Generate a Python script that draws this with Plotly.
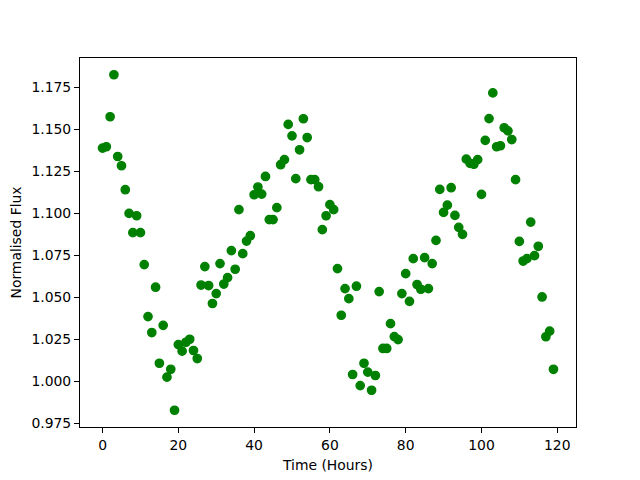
import plotly.graph_objects as go

time_hours = list(range(120))
flux = [
    1.1389, 1.1397, 1.1576, 1.1826, 1.1339, 1.1284, 1.1141, 1.1000, 1.0885, 1.0986,
    1.0885, 1.0695, 1.0385, 1.0290, 1.0560, 1.0107, 1.0333, 1.0024, 1.0071, 0.9827,
    1.0218, 1.0179, 1.0232, 1.0250, 1.0183, 1.0135, 1.0573, 1.0683, 1.0570, 1.0463,
    1.0522, 1.0701, 1.0579, 1.0617, 1.0778, 1.0667, 1.1022, 1.0760, 1.0835, 1.0867,
    1.1111, 1.1157, 1.1115, 1.1220, 1.0963, 1.0963, 1.1034, 1.1290, 1.1320, 1.1530,
    1.1462, 1.1207, 1.1379, 1.1564, 1.1452, 1.1201, 1.1201, 1.1159, 1.0903, 1.0986,
    1.1052, 1.1022, 1.0671, 1.0393, 1.0552, 1.0492, 1.0040, 1.0566, 0.9974, 1.0107,
    1.0054, 0.9946, 1.0034, 1.0534, 1.0195, 1.0195, 1.0343, 1.0266, 1.0248, 1.0522,
    1.0641, 1.0476, 1.0730, 1.0576, 1.0548, 1.0736, 1.0552, 1.0701, 1.0839, 1.1143,
    1.1006, 1.1049, 1.1153, 1.0988, 1.0917, 1.0875, 1.1323, 1.1298, 1.1293, 1.1320,
    1.1113, 1.1435, 1.1565, 1.1718, 1.1397, 1.1403, 1.1510, 1.1492, 1.1440, 1.1201,
    1.0833, 1.0716, 1.0730, 1.0948, 1.0748, 1.0804, 1.0502, 1.0265, 1.0298, 1.0071,
]
x_ticks = [0, 20, 40, 60, 80, 100, 120]
y_ticks = [0.975, 1.000, 1.025, 1.050, 1.075, 1.100, 1.125, 1.150, 1.175]

def padded(vals, frac=0.05):
    lo, hi = min(vals), max(vals)
    m = (hi - lo) * frac
    return [lo - m, hi + m]

fig = go.Figure(go.Scatter(
    x=time_hours, y=flux, mode="markers",
    marker=dict(color="#008000", size=8.3, line=dict(color="#008000", width=1.4)),
))

font = dict(family="DejaVu Sans", size=13.9, color="black")
axis_common = dict(
    showline=True, linecolor="black", linewidth=1, mirror=True,
    ticks="outside", ticklen=5, tickwidth=1, tickcolor="black",
    showgrid=False, zeroline=False, tickfont=font, automargin=False,
)
fig.update_xaxes(range=padded(time_hours), tickvals=x_ticks,
                 title=dict(text="Time (Hours)", font=font, standoff=8), **axis_common)
fig.update_yaxes(range=padded(flux), tickvals=y_ticks, tickformat=".3f",
                 title=dict(text="Normalised Flux", font=font, standoff=8), **axis_common)
fig.update_layout(
    width=640, height=480,
    margin=dict(l=72, r=72, t=50, b=61),
    plot_bgcolor="white", paper_bgcolor="white",
    showlegend=False, font=font,
)
fig.write_html("out.html")
